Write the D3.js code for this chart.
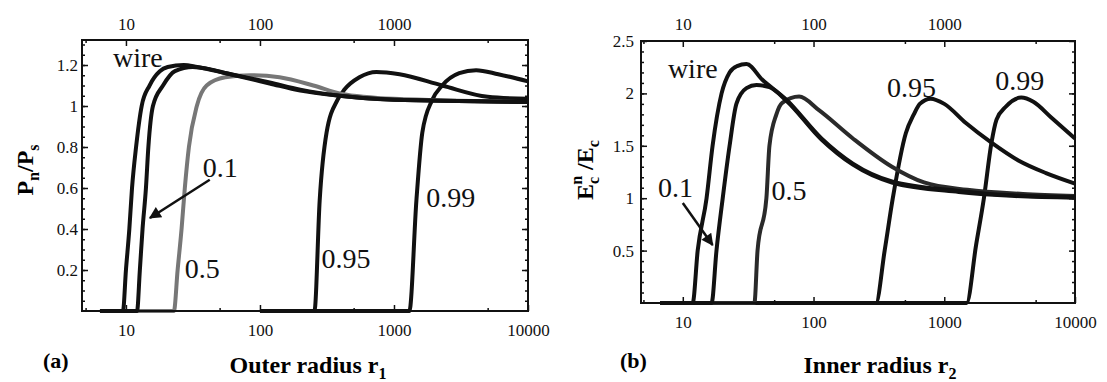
<!DOCTYPE html>
<meta charset="utf-8">
<title>Pn/Ps and Ec ratio vs radius</title>
<style>
  body { margin: 0; background: #fff; }
  svg text { font-family: "Liberation Serif", "DejaVu Serif", serif; }
  .tick line { stroke: #111; stroke-width: 1.5; }
</style>
<svg width="1107" height="382"></svg>
<script src="https://d3js.org/d3.v7.min.js"></script>
<script>

// ---- panel (a): Pn/Ps vs outer radius r1 ----
var wireA = [[6.4,0],[9.5,0],[10.0,0.2],[10.6,0.4],[11.1,0.6],[11.9,0.8],[13.1,1.0],[15,1.1],[17.9,1.17],[20.5,1.19],[27,1.2],[34,1.19],[56,1.16],[118,1.115],[200,1.08],[392,1.05],[1000,1.03],[10000,1.02]];
var p01A  = [[6.4,0],[12.1,0],[12.7,0.2],[13.3,0.4],[14.1,0.6],[14.7,0.8],[15.9,1.0],[18.9,1.1],[23.2,1.17],[31.5,1.19],[42,1.18],[56,1.16],[118,1.11],[200,1.075],[392,1.05],[1000,1.03],[10000,1.02]];
var p05A  = [[6.4,0],[22.8,0],[24.3,0.2],[26,0.4],[27.5,0.6],[29.5,0.8],[33.8,1.0],[40,1.1],[55,1.14],[85,1.15],[140,1.14],[250,1.1],[400,1.06],[1000,1.035],[10000,1.02]];
var p95A  = [[100,0],[255,0],[279,0.54],[314,0.87],[379,1.03],[427,1.08],[552,1.14],[740,1.166],[1100,1.155],[2290,1.10],[5000,1.045],[10000,1.035]];
var p99A  = [[100,0],[1303,0],[1470,0.54],[1627,0.87],[1930,1.03],[2290,1.10],[3070,1.16],[4100,1.175],[6000,1.155],[10000,1.12]];

// ---- panel (b): Ec^n/Ec vs inner radius r2 ----
var wireB = [[6.7,0],[11.9,0],[13.0,0.5],[15.2,1.0],[16.9,1.5],[19.8,2.0],[22.8,2.2],[26,2.26],[30.7,2.28],[40.6,2.13],[62,1.94],[115,1.57],[200,1.33],[398,1.16],[1290,1.07],[3000,1.03],[10000,1.01]];
var p01B  = [[6.7,0],[16.6,0],[18.1,0.5],[20.2,1.0],[22.8,1.5],[25.7,1.9],[30.7,2.05],[36.6,2.08],[46,2.06],[62,1.93],[115,1.56],[200,1.32],[398,1.15],[1290,1.06],[3000,1.025],[10000,1.005]];
var p05B  = [[6.7,0],[35.3,0],[37.3,0.5],[43.6,1.0],[46,1.5],[52,1.8],[57.6,1.91],[77.6,1.97],[110,1.84],[200,1.57],[398,1.30],[700,1.15],[1500,1.08],[4000,1.04],[10000,1.02]];
var p95B  = [[6.7,0],[300,0],[350,0.5],[404,1.0],[508,1.62],[585,1.8],[650,1.9],[787,1.95],[1000,1.9],[1456,1.72],[2297,1.53],[3690,1.36],[6000,1.24],[10000,1.14]];
var p99B  = [[300,0],[1483,0],[1750,0.55],[2010,1.0],[2297,1.53],[2510,1.75],[2940,1.87],[3880,1.96],[4800,1.92],[6580,1.77],[10000,1.57]];

// tick values
var xMajorBottom = [10, 100, 1000, 10000];
var xMajorTop = [10, 100, 1000];
var xMinor = [5, 50, 500, 5000];
var yTicksA = [0.2, 0.4, 0.6, 0.8, 1, 1.2];
var yTicksB = [0.5, 1, 1.5, 2, 2.5];

var serif = "Liberation Serif, DejaVu Serif, serif";
var svg = d3.select("svg");

var xA = d3.scaleLog().domain([4.7, 10000]).range([82, 528]);
var yA = d3.scaleLinear().domain([0, 1.322]).range([311, 40]);
var xB = d3.scaleLog().domain([4.79, 10000]).range([641, 1075]);
var yB = d3.scaleLinear().domain([0, 2.5]).range([303, 41]);

svg.append("defs").append("marker")
    .attr("id", "arrow")
    .attr("markerUnits", "userSpaceOnUse")
    .attr("viewBox", "0 0 10 10")
    .attr("refX", 9).attr("refY", 5)
    .attr("markerWidth", 14).attr("markerHeight", 12)
    .attr("orient", "auto")
  .append("path")
    .attr("d", "M0,0L10,5L0,10z")
    .attr("fill", "#111");

function panel(x, y, yTicks, yMinorStep, series, pads) {
  var g = svg.append("g");
  var x0 = x.range()[0], x1 = x.range()[1];
  var y0 = y.range()[0], y1 = y.range()[1];

  // minor ticks
  var yMinor = d3.range(yMinorStep, y.domain()[1], yMinorStep);
  g.append("g").attr("transform", "translate(0," + y0 + ")")
    .call(d3.axisBottom(x).tickValues(xMinor).tickSize(-3).tickFormat(""));
  g.append("g").attr("transform", "translate(0," + y1 + ")")
    .call(d3.axisTop(x).tickValues(xMinor).tickSize(-3).tickFormat(""));
  g.append("g").attr("transform", "translate(" + x0 + ",0)")
    .call(d3.axisLeft(y).tickValues(yMinor).tickSize(-3).tickFormat(""));
  g.append("g").attr("transform", "translate(" + x1 + ",0)")
    .call(d3.axisRight(y).tickValues(yMinor).tickSize(-3).tickFormat(""));

  // major ticks with labels
  g.append("g").attr("transform", "translate(0," + y0 + ")")
    .call(d3.axisBottom(x).tickValues(xMajorBottom).tickSize(-6).tickPadding(pads.bottom).tickFormat(d3.format("d")));
  g.append("g").attr("transform", "translate(0," + y1 + ")")
    .call(d3.axisTop(x).tickValues(xMajorTop).tickSize(-6).tickPadding(pads.top).tickFormat(d3.format("d")));
  g.append("g").attr("transform", "translate(" + x0 + ",0)")
    .call(d3.axisLeft(y).tickValues(yTicks).tickSize(-6).tickPadding(pads.left).tickFormat(function(d) { return String(d); }));
  g.append("g").attr("transform", "translate(" + x1 + ",0)")
    .call(d3.axisRight(y).tickValues(yTicks).tickSize(-6).tickFormat(""));

  g.selectAll(".domain").remove();
  g.selectAll(".tick text").attr("font-family", serif).attr("font-size", 17).attr("fill", "#111");

  var line = d3.line()
      .x(function(d) { return x(d[0]); })
      .y(function(d) { return y(d[1]); })
      .curve(d3.curveMonotoneX);

  g.append("g")
    .selectAll("path")
    .data(series)
    .enter().append("path")
      .attr("d", function(s) { return line(s.data); })
      .attr("fill", "none")
      .attr("stroke", function(s) { return s.color; })
      .attr("stroke-width", 4)
      .attr("stroke-linejoin", "round");

  // frame
  g.append("rect")
    .attr("x", x0).attr("y", y1)
    .attr("width", x1 - x0).attr("height", y0 - y1)
    .attr("fill", "none").attr("stroke", "#111").attr("stroke-width", 2);

  return g;
}

var gA = panel(xA, yA, yTicksA, 0.05, [
  {data: p99A, color: "#111"},
  {data: p95A, color: "#111"},
  {data: p05A, color: "#777"},
  {data: p01A, color: "#111"},
  {data: wireA, color: "#111"}
], {bottom: 13, top: 10, left: 4});

var gB = panel(xB, yB, yTicksB, 0.1, [
  {data: p99B, color: "#111"},
  {data: p95B, color: "#111"},
  {data: p05B, color: "#2a2a2a"},
  {data: p01B, color: "#111"},
  {data: wireB, color: "#111"}
], {bottom: 13, top: 11, left: 7});

// curve labels
function label(g, x, y, r, v, txt) {
  g.append("text")
    .attr("x", x(r)).attr("y", y(v))
    .attr("font-family", serif)
    .style("font-size", "28px")
    .attr("fill", "#111")
    .text(txt);
}
label(gA, xA, yA, 8.0, 1.19, "wire");
label(gA, xA, yA, 37.4, 0.654, "0.1");
label(gA, xA, yA, 27.5, 0.161, "0.5");
label(gA, xA, yA, 288, 0.21, "0.95");
label(gA, xA, yA, 1742, 0.507, "0.99");

label(gB, xB, yB, 7.69, 2.15, "wire");
label(gB, xB, yB, 6.45, 1.01, "0.1");
label(gB, xB, yB, 47.7, 0.98, "0.5");
label(gB, xB, yB, 364, 1.97, "0.95");
label(gB, xB, yB, 2460, 2.03, "0.99");

// arrows pointing at the 0.1 curves
gA.append("line")
  .attr("x1", xA(42.2)).attr("y1", yA(0.64))
  .attr("x2", xA(15.1)).attr("y2", yA(0.454))
  .attr("stroke", "#111").attr("stroke-width", 2.5)
  .attr("marker-end", "url(#arrow)");
gB.append("line")
  .attr("x1", xB(10)).attr("y1", yB(0.954))
  .attr("x2", xB(16.9)).attr("y2", yB(0.553))
  .attr("stroke", "#111").attr("stroke-width", 2.5)
  .attr("marker-end", "url(#arrow)");

// axis titles
var tA = svg.append("text")
  .attr("transform", "translate(33,170)rotate(-90)")
  .attr("text-anchor", "middle")
  .attr("font-family", serif)
  .style("font-size", "24px").style("font-weight", "bold");
tA.append("tspan").text("P");
tA.append("tspan").attr("dy", 6).style("font-size", "16px").text("n");
tA.append("tspan").attr("dy", -6).text("/P");
tA.append("tspan").attr("dy", 6).style("font-size", "16px").text("s");

var tB = svg.append("text")
  .attr("transform", "translate(593,170)rotate(-90)")
  .attr("text-anchor", "middle")
  .attr("font-family", serif)
  .style("font-size", "24px").style("font-weight", "bold");
tB.append("tspan").text("E");
tB.append("tspan").attr("dy", 6).style("font-size", "16px").text("c");
tB.append("tspan").attr("dx", -8).attr("dy", -17).style("font-size", "16px").text("n");
tB.append("tspan").attr("dy", 11).text(" /E");
tB.append("tspan").attr("dy", 6).style("font-size", "16px").text("c");

var xtA = svg.append("text")
  .attr("x", 308).attr("y", 373)
  .attr("text-anchor", "middle")
  .attr("font-family", serif)
  .style("font-size", "24px").style("font-weight", "bold");
xtA.append("tspan").text("Outer radius r");
xtA.append("tspan").attr("dy", 6).style("font-size", "16px").text("1");

var xtB = svg.append("text")
  .attr("x", 880).attr("y", 373)
  .attr("text-anchor", "middle")
  .attr("font-family", serif)
  .style("font-size", "24px").style("font-weight", "bold");
xtB.append("tspan").text("Inner radius r");
xtB.append("tspan").attr("dy", 6).style("font-size", "16px").text("2");

svg.append("text").attr("x", 43).attr("y", 368)
  .attr("font-family", serif)
  .style("font-size", "22px").style("font-weight", "bold").text("(a)");
svg.append("text").attr("x", 620).attr("y", 368)
  .attr("font-family", serif)
  .style("font-size", "22px").style("font-weight", "bold").text("(b)");

</script>
